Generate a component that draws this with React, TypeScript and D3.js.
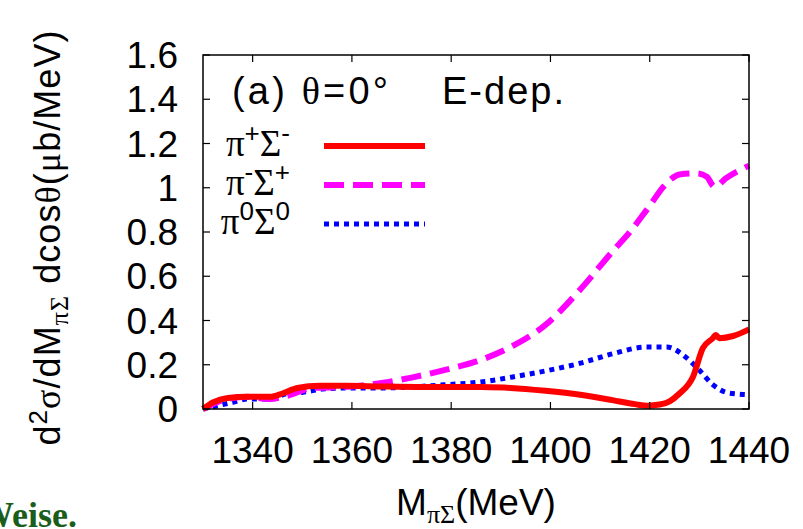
import React, { useEffect, useRef } from 'react';
import * as d3 from 'd3';

// mass grid (MeV) and cross sections (ub/MeV)
const massPlusMinus = [1330, 1332, 1335, 1339, 1343.5, 1346, 1349, 1353.5, 1359, 1366, 1373, 1380, 1386, 1392, 1399, 1406, 1412.5, 1417, 1419.5, 1422, 1424, 1426, 1428.7, 1430.7, 1432.7, 1433.3, 1434, 1436.8, 1440];
const sigPlusMinus = [0, 0.03, 0.05, 0.055, 0.055, 0.07, 0.095, 0.105, 0.105, 0.102, 0.1, 0.1, 0.099, 0.095, 0.082, 0.064, 0.04, 0.022, 0.015, 0.02, 0.035, 0.07, 0.145, 0.275, 0.32, 0.335, 0.32, 0.33, 0.36];

const massMinusPlus = [1330, 1334, 1339, 1343.5, 1347, 1352, 1359, 1366, 1372, 1379, 1386, 1392.4, 1399, 1406, 1412.6, 1416, 1419.4, 1423.4, 1426, 1429.5, 1431.5, 1433, 1435.5, 1440];
const sigMinusPlus = [0, 0.04, 0.055, 0.045, 0.06, 0.095, 0.1, 0.118, 0.142, 0.178, 0.222, 0.285, 0.38, 0.54, 0.715, 0.8, 0.9, 1.02, 1.06, 1.065, 1.05, 1.005, 1.045, 1.1];

const massZeroZero = [1330, 1332, 1336, 1339, 1343.5, 1347, 1350, 1354, 1359, 1366, 1372, 1379, 1386, 1392.4, 1399, 1406, 1412.6, 1419.4, 1423.4, 1427.5, 1430, 1432.7, 1436, 1440];
const sigZeroZero = [0, 0.01, 0.03, 0.045, 0.045, 0.07, 0.075, 0.09, 0.095, 0.095, 0.1, 0.11, 0.122, 0.145, 0.172, 0.207, 0.25, 0.28, 0.28, 0.23, 0.175, 0.11, 0.072, 0.065];

const xTicks = [1340, 1360, 1380, 1400, 1420, 1440];
const yTicks = [0, 0.2, 0.4, 0.6, 0.8, 1, 1.2, 1.4, 1.6];

const App = () => {
    const ref = useRef<SVGSVGElement>(null);

    useEffect(() => {
        const svg = d3.select(ref.current);
        svg.selectAll('*').remove();

        const left = 203, right = 749, top = 55, bottom = 409;
        const x = d3.scaleLinear().domain([1330, 1440]).range([left, right]);
        const y = d3.scaleLinear().domain([0, 1.6]).range([bottom, top]);
        const sans = "'Liberation Sans', Arial, sans-serif";
        const serif = "'Liberation Serif', 'Times New Roman', serif";

        // curves
        const series = [
            { xs: massPlusMinus, ys: sigPlusMinus, color: '#ff0000', dash: null, width: 6 },
            { xs: massMinusPlus, ys: sigMinusPlus, color: '#ff00ff', dash: '20,9', width: 6 },
            { xs: massZeroZero, ys: sigZeroZero, color: '#0000ff', dash: '5,5', width: 5 },
        ];
        const line = d3.line<[number, number]>()
            .x(d => x(d[0]))
            .y(d => y(d[1]))
            .curve(d3.curveMonotoneX);

        const plot = svg.append('g');
        [series[2], series[1], series[0]].forEach(s => {
            plot.append('path')
                .datum(s.xs.map((m, i) => [m, s.ys[i]] as [number, number]))
                .attr('d', line)
                .attr('fill', 'none')
                .attr('stroke', s.color)
                .attr('stroke-width', s.width)
                .attr('stroke-dasharray', s.dash)
                .attr('stroke-linejoin', 'round');
        });

        // frame and inward ticks
        svg.append('rect')
            .attr('x', left).attr('y', top)
            .attr('width', right - left).attr('height', bottom - top)
            .attr('fill', 'none').attr('stroke', '#000').attr('stroke-width', 1.5);

        const ticks = svg.append('g').attr('stroke', '#000').attr('stroke-width', 1.2);
        xTicks.forEach(t => {
            ticks.append('line').attr('x1', x(t)).attr('x2', x(t)).attr('y1', bottom).attr('y2', bottom - 7);
            ticks.append('line').attr('x1', x(t)).attr('x2', x(t)).attr('y1', top).attr('y2', top + 7);
        });
        yTicks.forEach(t => {
            ticks.append('line').attr('x1', left).attr('x2', left + 7).attr('y1', y(t)).attr('y2', y(t));
            ticks.append('line').attr('x1', right).attr('x2', right - 7).attr('y1', y(t)).attr('y2', y(t));
        });

        // tick labels
        svg.append('g').selectAll('text').data(xTicks).enter().append('text')
            .attr('x', d => x(d)).attr('y', 463)
            .attr('text-anchor', 'middle')
            .attr('font-family', sans).attr('font-size', 37)
            .text(d => d);
        svg.append('g').selectAll('text').data(yTicks).enter().append('text')
            .attr('x', 178).attr('y', d => y(d) + 13)
            .attr('text-anchor', 'end')
            .attr('font-family', sans).attr('font-size', 37)
            .text(d => d3.format('')(d));

        // x label
        const xl = svg.append('text')
            .attr('x', 476).attr('y', 515)
            .attr('text-anchor', 'middle')
            .attr('font-family', sans).attr('font-size', 37);
        xl.append('tspan').text('M');
        xl.append('tspan').attr('dy', 8).attr('font-size', 26).attr('font-family', serif).text('πΣ');
        xl.append('tspan').attr('dy', -8).text('(MeV)');

        // y label
        const yl = svg.append('text')
            .attr('transform', 'translate(60,238) rotate(-90)')
            .attr('text-anchor', 'middle')
            .attr('font-family', sans).attr('font-size', 36);
        yl.append('tspan').text('d');
        yl.append('tspan').attr('dy', -13).attr('font-size', 26).text('2');
        yl.append('tspan').attr('dy', 13).attr('font-family', serif).text('σ');
        yl.append('tspan').text('/dM');
        yl.append('tspan').attr('dy', 8).attr('font-size', 26).attr('font-family', serif).text('πΣ');
        yl.append('tspan').attr('dy', -8).text('  dcos');
        yl.append('tspan').attr('font-family', serif).text('θ');
        yl.append('tspan').text('(');
        yl.append('tspan').attr('font-family', serif).text('μ');
        yl.append('tspan').text('b/MeV)');
        yl.attr('textLength', 415).attr('lengthAdjust', 'spacing');

        // title
        const title = svg.append('text')
            .attr('x', 232).attr('y', 104)
            .attr('font-family', sans).attr('font-size', 38)
            .attr('textLength', 156).attr('lengthAdjust', 'spacing');
        title.append('tspan').text('(a) ');
        title.append('tspan').attr('font-family', serif).text('θ');
        title.append('tspan').text('=0°');
        svg.append('text')
            .attr('x', 442).attr('y', 104)
            .attr('font-family', sans).attr('font-size', 38)
            .attr('textLength', 122).attr('lengthAdjust', 'spacing')
            .text('E-dep.');

        // legend
        const legend = [
            { sup1: '+', sup2: '-', y: 146 },
            { sup1: '-', sup2: '+', y: 185 },
            { sup1: '0', sup2: '0', y: 224 },
        ];
        legend.forEach((l, i) => {
            const s = series[i];
            svg.append('line')
                .attr('x1', 324).attr('x2', 425)
                .attr('y1', l.y).attr('y2', l.y)
                .attr('stroke', s.color).attr('stroke-width', s.width)
                .attr('stroke-dasharray', s.dash);
            const t = svg.append('text')
                .attr('x', 290).attr('y', l.y + 10)
                .attr('text-anchor', 'end')
                .attr('font-size', 37);
            t.append('tspan').attr('font-family', serif).text('π');
            t.append('tspan').attr('dy', -14).attr('font-family', sans).attr('font-size', 26).text(l.sup1);
            t.append('tspan').attr('dy', 14).attr('font-family', serif).text('Σ');
            t.append('tspan').attr('dy', -14).attr('font-family', sans).attr('font-size', 26).text(l.sup2);
        });

        // cut-off caption from the slide underneath
        svg.append('text')
            .attr('x', -22).attr('y', 527)
            .attr('font-family', serif).attr('font-weight', 'bold').attr('font-size', 36)
            .attr('fill', '#1b5e1b')
            .text('Weise.');
    }, []);

    return (
        <svg ref={ref} width={803} height={529}
            style={{ position: 'absolute', left: 0, top: 0, background: '#fff' }} />
    );
};

export default App;
